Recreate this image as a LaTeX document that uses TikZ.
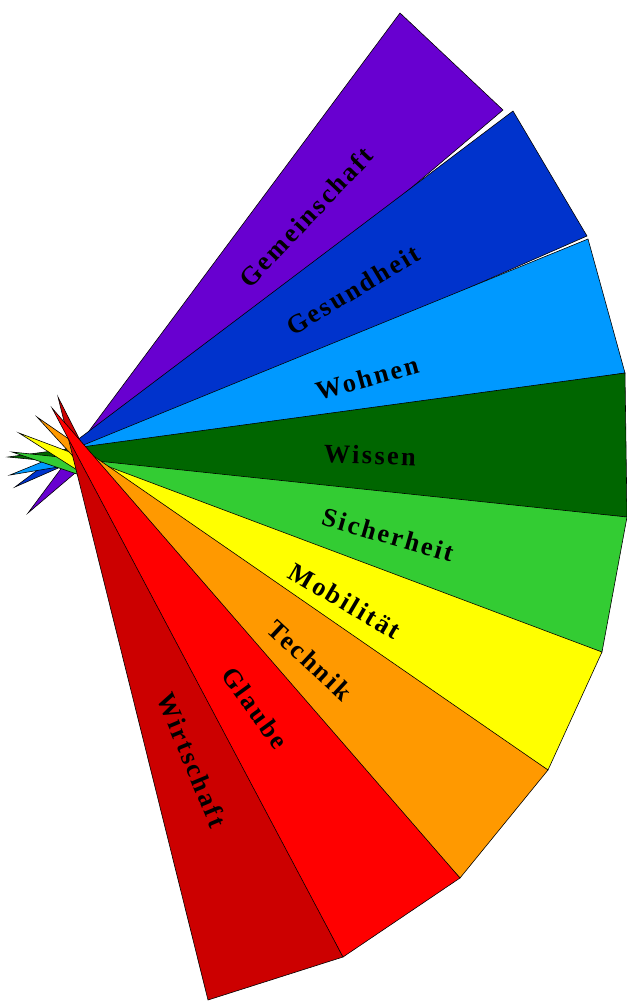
\documentclass[tikz,border=0pt]{standalone}
\usepackage{fontspec}
\usepackage{tikz}
\usetikzlibrary{calc}
\newfontfamily\fanfont[LetterSpace=9]{Liberation Serif}
\definecolor{gemcol}{RGB}{104,0,208}
\definecolor{gescol}{RGB}{0,51,204}
\definecolor{wohcol}{RGB}{0,153,255}
\definecolor{wiscol}{RGB}{0,102,0}
\definecolor{siccol}{RGB}{51,204,51}
\definecolor{mobcol}{RGB}{255,255,0}
\definecolor{teccol}{RGB}{255,153,0}
\definecolor{glacol}{RGB}{255,0,0}
\definecolor{wircol}{RGB}{204,0,0}
\tikzset{
  % Fan segment: long thin wedge, thin black rim
  segment/.style={draw=black, line width=0.5pt, line join=miter},
  % Segment caption: bold serif, spaced letters
  seglabel/.style={font=\fanfont\bfseries\fontsize{22.5}{26}\selectfont,
                   inner sep=0pt, text=black}
}

\begin{document}
\begin{tikzpicture}[x=0.03cm, y=-0.03cm]
\useasboundingbox (0,0) rectangle (627,1003);

% Outer corners of the fan, clockwise from the top
\coordinate (c0) at (400,13);
\coordinate (c1) at (503,110);
\coordinate (c1b) at (513,111);
\coordinate (c2) at (587,236);
\coordinate (c2b) at (588,239);
\coordinate (c3) at (625,373);
\coordinate (c4) at (627,517);
\coordinate (c5) at (602,652);
\coordinate (c6) at (548,770);
\coordinate (c7) at (460,878);
\coordinate (c8) at (343,957);
\coordinate (c9) at (208,1000);

% Spike tips on the left
\coordinate (tgem) at (28,513);
\coordinate (tges) at (15,487);
\coordinate (twoh) at (10,475);
\coordinate (twis) at (8,457);
\coordinate (tsic) at (12,452);
\coordinate (tmob) at (19,433);
\coordinate (ttec) at (37,417);
\coordinate (tgla) at (52,408);
\coordinate (twir) at (58,397);

% Segments
\filldraw[segment, fill=gemcol] (tgem) -- (c0) -- (c1) -- cycle;
\filldraw[segment, fill=gescol] (tges) -- (c1b) -- (c2) -- cycle;
\filldraw[segment, fill=wohcol] (twoh) -- (c2b) -- (c3) -- cycle;
\filldraw[segment, fill=wiscol] (twis) -- (c3) -- (c4) -- cycle;
\filldraw[segment, fill=siccol] (tsic) -- (c4) -- (c5) -- cycle;
\filldraw[segment, fill=mobcol] (tmob) -- (c5) -- (c6) -- cycle;
\filldraw[segment, fill=teccol] (ttec) -- (c6) -- (c7) -- cycle;
\filldraw[segment, fill=wircol] (twir) -- (c8) -- (c9) -- cycle;
\filldraw[segment, fill=glacol] (tgla) -- (c7) -- (c8) -- cycle;

% Captions
\node[seglabel, rotate=46.5] (lgem) at (306,217) {Gemeinschaft};
\node[seglabel, rotate=31] (lges) at (353,290) {Gesundheit};
\node[seglabel, rotate=15.5] (lwoh) at (367,378) {Wohnen};
\node[seglabel, rotate=-2] (lwis) at (370,455) {Wissen};
\node[seglabel, rotate=-16] (lsic) at (388,535) {Sicherheit};
\node[seglabel, rotate=-30.5] (lmob) at (345,601) {Mobilität};
\node[seglabel, rotate=-43] (ltec) at (310,660) {Technik};
\node[seglabel, rotate=-54] (lgla) at (255,708) {Glaube};
\node[seglabel, rotate=-67.5] (lwir) at (192,760) {Wirtschaft};

\end{tikzpicture}
\end{document}
